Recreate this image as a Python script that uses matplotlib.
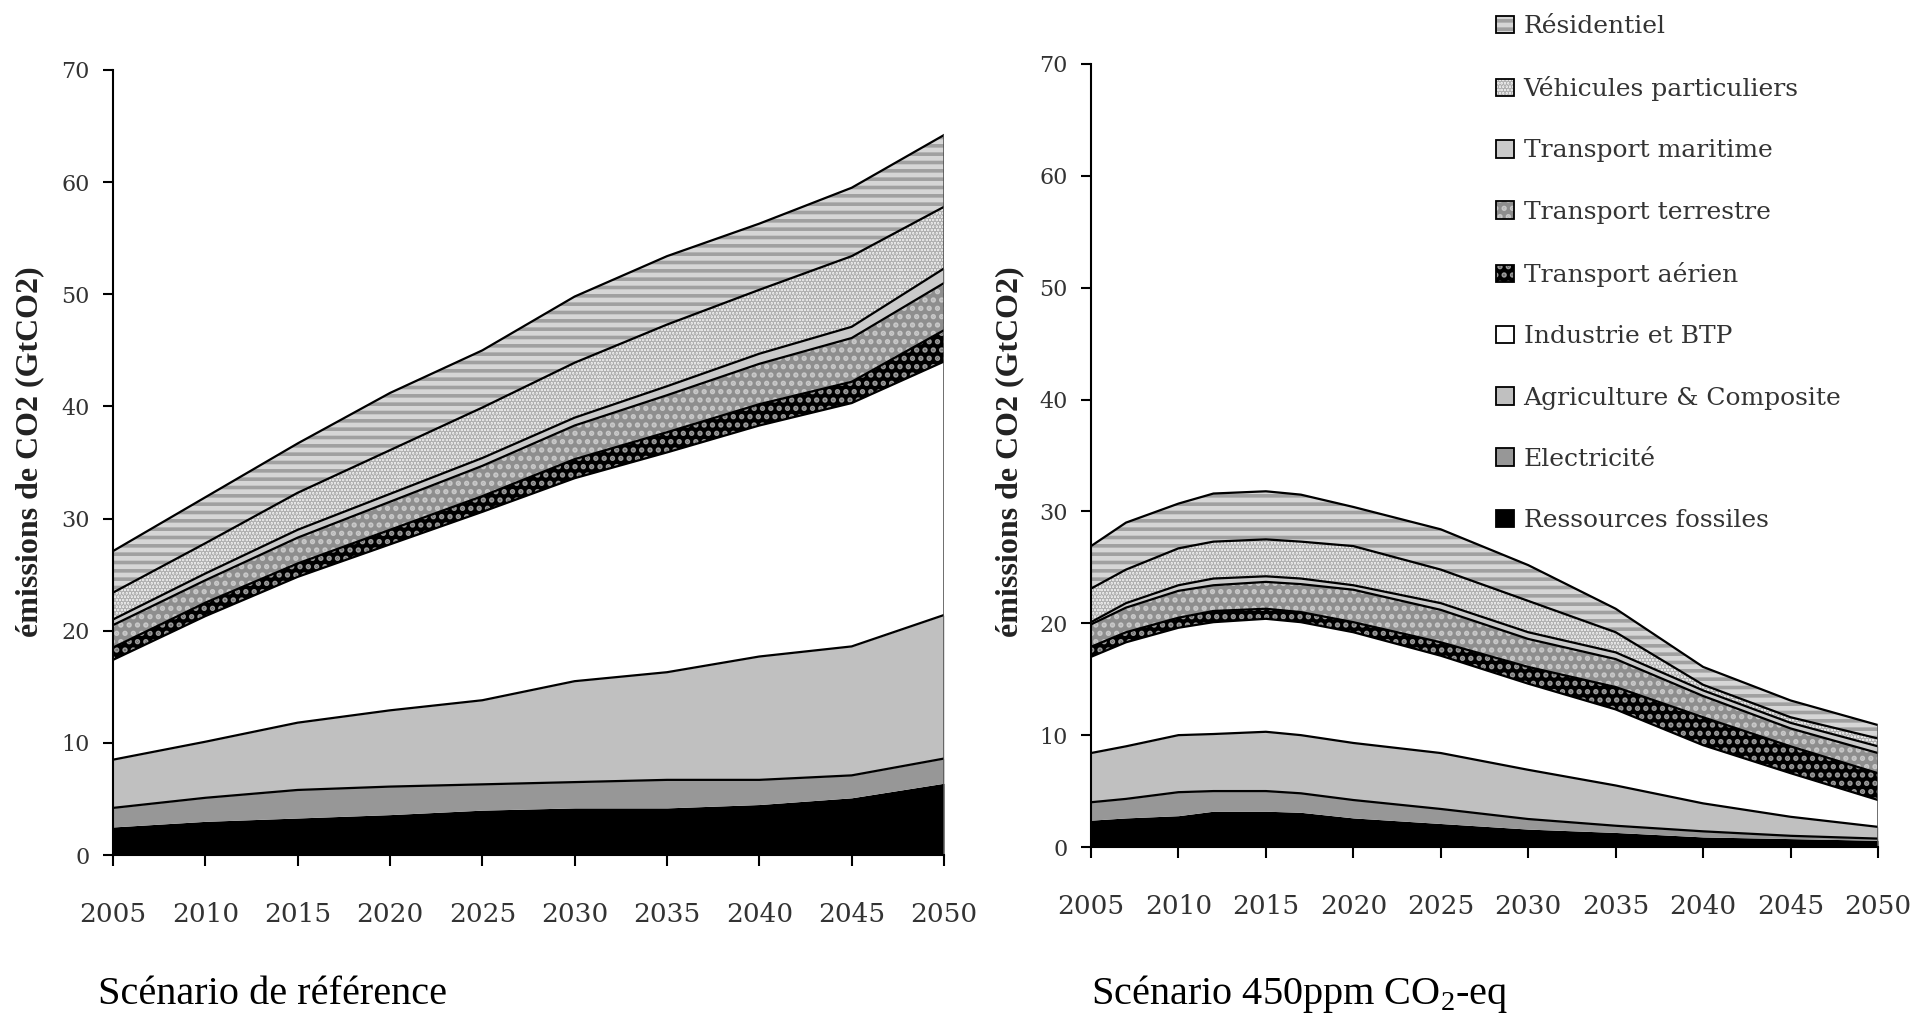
import numpy as np
import matplotlib
matplotlib.use("Agg")
import matplotlib.pyplot as plt
from matplotlib.patches import Patch
from matplotlib.legend_handler import HandlerTuple

plt.rcParams['hatch.linewidth'] = 2.6
plt.rcParams['mathtext.fontset'] = 'custom'
plt.rcParams['mathtext.rm'] = 'Liberation Serif'

sectors = ['Ressources fossiles', 'Electricité', 'Agriculture & Composite',
           'Industrie et BTP', 'Transport aérien', 'Transport terrestre',
           'Transport maritime', 'Véhicules particuliers', 'Résidentiel']

# reference scenario, GtCO2 per sector
years_ref = [2005, 2010, 2015, 2020, 2025, 2030, 2035, 2040, 2045, 2050]
ref_fossiles = [2.5, 3.0, 3.3, 3.6, 4.0, 4.2, 4.2, 4.5, 5.1, 6.4]
ref_elec = [1.7, 2.1, 2.5, 2.5, 2.3, 2.3, 2.5, 2.2, 2.0, 2.2]
ref_agri = [4.3, 5.0, 6.0, 6.8, 7.5, 9.0, 9.6, 11.0, 11.5, 12.8]
ref_industrie = [8.9, 11.2, 13.0, 14.8, 16.8, 18.1, 19.6, 20.6, 21.7, 22.6]
ref_aerien = [1.1, 1.2, 1.2, 1.3, 1.4, 1.7, 1.8, 1.9, 1.9, 2.8]
ref_terrestre = [2.0, 2.0, 2.3, 2.5, 2.7, 3.0, 3.3, 3.6, 3.9, 4.2]
ref_maritime = [0.5, 0.6, 0.7, 0.7, 0.7, 0.7, 0.8, 0.9, 1.0, 1.3]
ref_vehicules = [2.4, 2.7, 3.3, 3.9, 4.5, 4.9, 5.5, 5.7, 6.3, 5.5]
ref_residentiel = [3.7, 4.1, 4.4, 5.1, 5.1, 5.9, 6.1, 5.9, 6.1, 6.4]

# 450ppm scenario
years_450 = [2005, 2007, 2010, 2012, 2015, 2017, 2020, 2025, 2030, 2035, 2040, 2045, 2050]
s450_fossiles = [2.4, 2.6, 2.8, 3.2, 3.2, 3.1, 2.6, 2.1, 1.6, 1.3, 0.9, 0.75, 0.6]
s450_elec = [1.6, 1.7, 2.1, 1.8, 1.8, 1.7, 1.6, 1.3, 0.9, 0.6, 0.5, 0.25, 0.15]
s450_agri = [4.4, 4.7, 5.1, 5.1, 5.3, 5.2, 5.1, 5.0, 4.4, 3.6, 2.5, 1.7, 1.05]
s450_industrie = [8.6, 9.3, 9.6, 10.0, 10.1, 10.1, 9.9, 8.7, 7.7, 6.8, 5.2, 3.9, 2.4]
s450_aerien = [0.9, 0.9, 0.9, 1.0, 0.9, 0.9, 0.9, 1.2, 1.5, 2.0, 2.5, 2.4, 2.4]
s450_terrestre = [2.0, 2.2, 2.4, 2.3, 2.4, 2.5, 2.9, 2.9, 2.5, 2.5, 1.9, 1.6, 1.8]
s450_maritime = [0.2, 0.4, 0.5, 0.6, 0.5, 0.5, 0.4, 0.6, 0.6, 0.6, 0.5, 0.5, 0.6]
s450_vehicules = [3.0, 3.0, 3.3, 3.3, 3.3, 3.3, 3.5, 3.0, 2.8, 1.8, 0.5, 0.5, 0.7]
s450_residentiel = [3.8, 4.2, 4.0, 4.3, 4.3, 4.2, 3.5, 3.6, 3.2, 2.1, 1.6, 1.5, 1.2]

ref_data = [ref_fossiles, ref_elec, ref_agri, ref_industrie, ref_aerien,
            ref_terrestre, ref_maritime, ref_vehicules, ref_residentiel]
s450_data = [s450_fossiles, s450_elec, s450_agri, s450_industrie, s450_aerien,
             s450_terrestre, s450_maritime, s450_vehicules, s450_residentiel]

# fill colour, hatch, hatch colour
styles = [
    ('#000000', None, '#000000'),
    ('#979797', None, '#979797'),
    ('#c0c0c0', None, '#c0c0c0'),
    ('#ffffff', None, '#ffffff'),
    ('#000000', '..', '#9a9a9a'),
    ('#8e8e8e', '..', '#c8c8c8'),
    ('#cacaca', None, '#cacaca'),
    ('#ededed', '.....', '#b0b0b0'),
    ('#d6d6d6', '--', '#a0a0a0'),
]

serif_ticks = 'DejaVu Serif'


def draw_stack(ax, years, data):
    x = np.array(years, dtype=float)
    base = np.zeros(len(x))
    for i, vals in enumerate(data):
        top = base + np.array(vals)
        fc, h, hc = styles[i]
        ax.fill_between(x, base, top, facecolor=fc, edgecolor=hc, hatch=h,
                        linewidth=0)
        if i > 0:
            ax.plot(x, top, color='black', lw=1.6, solid_joinstyle='round')
        base = top
    ax.plot([x[-1], x[-1]], [0, base[-1]], color='#555555', lw=1.2)

    ax.set_xlim(2005, 2050)
    ax.set_ylim(0, 70)
    ax.set_xticks(range(2005, 2051, 5))
    ax.set_yticks(range(0, 71, 10))
    for s in ['top', 'right']:
        ax.spines[s].set_visible(False)
    for s in ['left', 'bottom']:
        ax.spines[s].set_linewidth(1.5)
    ax.tick_params(axis='x', direction='out', length=8, width=1.5, pad=26,
                   labelsize=19, colors='black')
    ax.tick_params(axis='y', direction='out', length=7, width=1.5, pad=10,
                   labelsize=16, colors='black')
    for lab in ax.get_xticklabels() + ax.get_yticklabels():
        lab.set_family(serif_ticks)
        lab.set_color('#333333')


fig = plt.figure(figsize=(19.28, 10.16), dpi=100)
W, H = 1928, 1016

ax1 = fig.add_axes([113 / W, 1 - 855 / H, (944 - 113) / W, (855 - 70) / H])
draw_stack(ax1, years_ref, ref_data)

ax2 = fig.add_axes([1091 / W, 1 - 847 / H, (1878 - 1091) / W, (847 - 64) / H])
draw_stack(ax2, years_450, s450_data)

ylab = 'émissions de CO2 (GtCO2)'
fig.text(30 / W, 1 - 452 / H, ylab, rotation=90, ha='center', va='center',
         family='Liberation Serif', weight='bold', fontsize=23, color='#222222')
fig.text(1010 / W, 1 - 452 / H, ylab, rotation=90, ha='center', va='center',
         family='Liberation Serif', weight='bold', fontsize=23, color='#222222')

fig.text(98 / W, 1 - 994 / H, 'Scénario de référence', ha='left', va='center',
         family='Liberation Serif', fontsize=29)
fig.text(1091 / W, 1 - 994 / H, r'Scénario 450ppm CO$_2$-eq', ha='left', va='center',
         family='Liberation Serif', fontsize=29)

handles = []
for i in range(len(sectors) - 1, -1, -1):
    fc, h, hc = styles[i]
    fill = Patch(facecolor=fc, edgecolor=hc, hatch=h, linewidth=0)
    frame = Patch(facecolor='none', edgecolor='black', linewidth=1.3)
    handles.append((fill, frame))
labels = sectors[::-1]
leg = fig.legend(handles, labels, loc='upper left',
                 bbox_to_anchor=(1486 / W, 1 - 5 / H), frameon=False,
                 prop={'family': serif_ticks, 'size': 18},
                 handler_map={tuple: HandlerTuple(ndivide=1)},
                 handlelength=0.7, handleheight=0.7, handletextpad=0.4,
                 labelspacing=1.53, borderaxespad=0)
for t in leg.get_texts():
    t.set_color('#333333')

fig.savefig('out.png', dpi=100)
